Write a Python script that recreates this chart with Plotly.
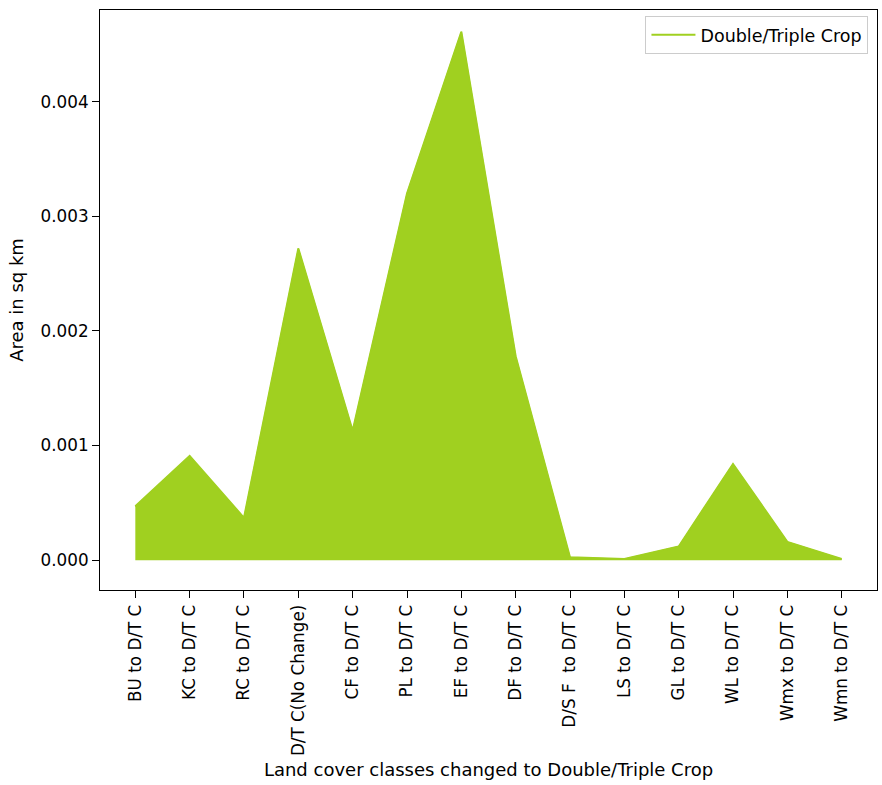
import plotly.graph_objects as go

# Land cover classes converted to double/triple crop
classes = [
    "BU to D/T C", "KC to D/T C", "RC to D/T C", "D/T C(No Change)",
    "CF to D/T C", "PL to D/T C", "EF to D/T C", "DF to D/T C",
    "D/S F\u00a0 to D/T C", "LS to D/T C", "GL to D/T C", "WL to D/T C",
    "Wmx to D/T C", "Wmn to D/T C",
]
# Area in sq km for each class
area = [
    0.00047, 0.00091, 0.00037, 0.00272,
    0.00113, 0.00320, 0.00461, 0.00178,
    0.000025, 0.00001, 0.00012, 0.00084,
    0.00016, 0.00001,
]

color = "#a0d020"
tick_font = dict(family="DejaVu Sans", size=16.8, color="black")
legend_font = dict(family="DejaVu Sans", size=17.5, color="black")

fig = go.Figure()
fig.add_trace(go.Scatter(
    x=classes, y=area, mode="lines", fill="tozeroy",
    fillcolor=color, line=dict(color=color, width=1),
    showlegend=False, hoverinfo="skip",
))
fig.add_trace(go.Scatter(
    x=classes, y=area, mode="lines",
    line=dict(color=color, width=2),
    name="Double/Triple Crop",
))

fig.update_layout(
    width=882, height=785,
    margin=dict(l=100, r=5, t=10, b=195),
    paper_bgcolor="white", plot_bgcolor="white",
    font=dict(family="DejaVu Sans", size=15, color="black"),
    legend=dict(
        x=0.989, y=0.99, xanchor="right", yanchor="top",
        bgcolor="white", bordercolor="#cccccc", borderwidth=1,
        font=legend_font, itemwidth=44,
    ),
)
fig.update_xaxes(
    type="category", range=[-0.65, 13.65],
    tickangle=-90, ticks="outside", ticklen=7, tickcolor="black",
    tickfont=tick_font,
    showline=True, linecolor="black", linewidth=1, mirror=True,
    showgrid=False, zeroline=False,
    title_text="Land cover classes changed to Double/Triple Crop",
    title_standoff=8,
)
fig.update_yaxes(
    range=[-0.00026, 0.0048], dtick=0.001, tick0=0, tickformat=".3f",
    ticks="outside", ticklen=7, tickcolor="black",
    tickfont=tick_font,
    showline=True, linecolor="black", linewidth=1, mirror=True,
    showgrid=False, zeroline=False,
    title_text="Area in sq km",
    title_standoff=12,
)

fig.write_html("out.html")
